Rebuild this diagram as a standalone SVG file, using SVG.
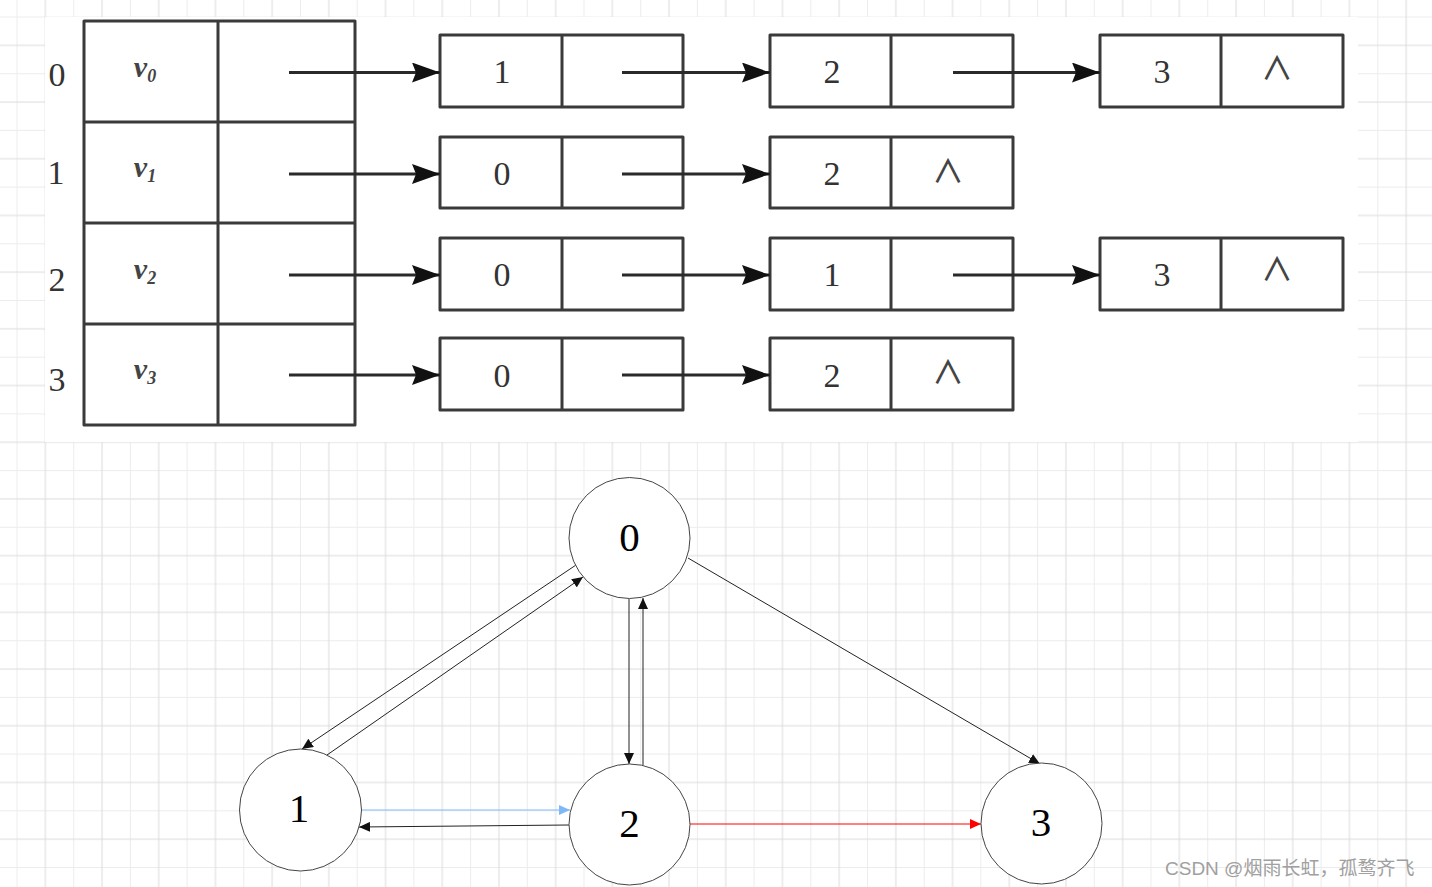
<svg xmlns="http://www.w3.org/2000/svg" width="1432" height="887" viewBox="0 0 1432 887">
<style>
.cell{fill:none;stroke:#3a3a3a;stroke-width:3;stroke-linejoin:round}
.tl{fill:none;stroke:#2a2a2a;stroke-width:3}
.num{font-family:"Liberation Serif",serif;font-size:34px;fill:#333;text-anchor:middle}
.vv{font-family:"Liberation Serif",serif;font-style:italic;font-weight:bold;font-size:30px;fill:#444;text-anchor:middle}
.nil{font-family:"Noto Sans CJK SC","DejaVu Sans",sans-serif;font-weight:500;font-size:32px;fill:#444;text-anchor:middle}
.circ{fill:#fff;stroke:#444;stroke-width:1}
.lab{font-family:"Liberation Serif",serif;font-size:41px;fill:#000;text-anchor:middle}
.e{fill:none;stroke:#222;stroke-width:1}
</style>
<defs>
<pattern id="grid" x="16.5" y="16.5" width="56.7" height="56.7" patternUnits="userSpaceOnUse">
<path d="M0.5 0V56.7M0 0.5H56.7" stroke="#ececec" stroke-width="1"/>
<path d="M28.85 0V56.7M0 28.85H56.7" stroke="#dcdcdc" stroke-width="1"/>
</pattern>
<marker id="big" markerUnits="userSpaceOnUse" markerWidth="28" markerHeight="20" refX="28" refY="10" orient="auto">
<path d="M0 0L28 10L0 20L4 10z" fill="#111"/>
</marker>
<marker id="ak" markerUnits="userSpaceOnUse" markerWidth="12" markerHeight="10" refX="11" refY="5" orient="auto">
<path d="M0 0L11 5L0 10z" fill="#111"/>
</marker>
<marker id="ab" markerUnits="userSpaceOnUse" markerWidth="12" markerHeight="10" refX="11" refY="5" orient="auto">
<path d="M0 0L11 5L0 10z" fill="#7fb8f7"/>
</marker>
<marker id="ar" markerUnits="userSpaceOnUse" markerWidth="12" markerHeight="10" refX="11" refY="5" orient="auto">
<path d="M0 0L11 5L0 10z" fill="#ff0000"/>
</marker>
</defs>
<rect width="1432" height="887" fill="#fff"/>
<rect width="1432" height="887" fill="url(#grid)"/>
<rect x="45" y="17" width="1313" height="425" fill="#fff"/>

<g id="labels-index">
<text class="num" x="57" y="86">0</text>
<text class="num" x="56" y="184">1</text>
<text class="num" x="57" y="291">2</text>
<text class="num" x="57" y="391">3</text>
</g>

<g id="headtable">
<rect class="cell" x="84" y="21" width="271" height="404"/>
<line class="cell" x1="218" y1="21" x2="218" y2="425"/>
<line class="cell" x1="84" y1="122" x2="355" y2="122" stroke-width="4.5"/>
<line class="cell" x1="84" y1="223" x2="355" y2="223"/>
<line class="cell" x1="84" y1="324" x2="355" y2="324"/>
<text class="vv" x="145" y="77">v<tspan font-size="18" dy="5">0</tspan></text>
<text class="vv" x="145" y="177">v<tspan font-size="18" dy="5">1</tspan></text>
<text class="vv" x="145" y="279">v<tspan font-size="18" dy="5">2</tspan></text>
<text class="vv" x="145" y="379">v<tspan font-size="18" dy="5">3</tspan></text>
</g>

<g id="row0">
<g id="n0a"><rect class="cell" x="440" y="35" width="243" height="72"/><line class="cell" x1="562" y1="35" x2="562" y2="107"/><text class="num" x="502" y="83">1</text></g>
<g id="n0b"><rect class="cell" x="770" y="35" width="243" height="72"/><line class="cell" x1="891" y1="35" x2="891" y2="107"/><text class="num" x="832" y="83">2</text></g>
<g id="n0c"><rect class="cell" x="1100" y="35" width="243" height="72"/><line class="cell" x1="1221" y1="35" x2="1221" y2="107"/><text class="num" x="1162" y="83">3</text><text class="nil" x="1277" y="80">∧</text></g>
</g>
<g id="row1">
<g id="n1a"><rect class="cell" x="440" y="137" width="243" height="71"/><line class="cell" x1="562" y1="137" x2="562" y2="208"/><text class="num" x="502" y="185">0</text></g>
<g id="n1b"><rect class="cell" x="770" y="137" width="243" height="71"/><line class="cell" x1="891" y1="137" x2="891" y2="208"/><text class="num" x="832" y="185">2</text><text class="nil" x="948" y="183">∧</text></g>
</g>
<g id="row2">
<g id="n2a"><rect class="cell" x="440" y="238" width="243" height="72"/><line class="cell" x1="562" y1="238" x2="562" y2="310"/><text class="num" x="502" y="286">0</text></g>
<g id="n2b"><rect class="cell" x="770" y="238" width="243" height="72"/><line class="cell" x1="891" y1="238" x2="891" y2="310"/><text class="num" x="832" y="286">1</text></g>
<g id="n2c"><rect class="cell" x="1100" y="238" width="243" height="72"/><line class="cell" x1="1221" y1="238" x2="1221" y2="310"/><text class="num" x="1162" y="286">3</text><text class="nil" x="1277" y="281">∧</text></g>
</g>
<g id="row3">
<g id="n3a"><rect class="cell" x="440" y="338" width="243" height="72"/><line class="cell" x1="562" y1="338" x2="562" y2="410"/><text class="num" x="502" y="387">0</text></g>
<g id="n3b"><rect class="cell" x="770" y="338" width="243" height="72"/><line class="cell" x1="891" y1="338" x2="891" y2="410"/><text class="num" x="832" y="387">2</text><text class="nil" x="948" y="384">∧</text></g>
</g>

<g id="list-connectors">
<line class="tl" x1="289" y1="72.5" x2="440" y2="72.5" marker-end="url(#big)"/>
<line class="tl" x1="622" y1="72.5" x2="770" y2="72.5" marker-end="url(#big)"/>
<line class="tl" x1="953" y1="72.5" x2="1100" y2="72.5" marker-end="url(#big)"/>
<line class="tl" x1="289" y1="174" x2="440" y2="174" marker-end="url(#big)"/>
<line class="tl" x1="622" y1="174" x2="770" y2="174" marker-end="url(#big)"/>
<line class="tl" x1="289" y1="275" x2="440" y2="275" marker-end="url(#big)"/>
<line class="tl" x1="622" y1="275" x2="770" y2="275" marker-end="url(#big)"/>
<line class="tl" x1="953" y1="275" x2="1100" y2="275" marker-end="url(#big)"/>
<line class="tl" x1="289" y1="375" x2="440" y2="375" marker-end="url(#big)"/>
<line class="tl" x1="622" y1="375" x2="770" y2="375" marker-end="url(#big)"/>
</g>

<g id="graph-connectors">
<line class="e" x1="576" y1="565" x2="302" y2="749" marker-end="url(#ak)"/>
<line class="e" x1="327" y1="755" x2="583" y2="577" marker-end="url(#ak)"/>
<line class="e" x1="629" y1="599" x2="629" y2="764" marker-end="url(#ak)"/>
<line class="e" x1="643" y1="765" x2="643" y2="598" marker-end="url(#ak)"/>
<line class="e" x1="688" y1="558" x2="1040" y2="764" marker-end="url(#ak)"/>
<line x1="362" y1="810" x2="570" y2="810" stroke="#7fb8f7" stroke-width="1" marker-end="url(#ab)"/>
<line class="e" x1="569" y1="825" x2="359" y2="827" marker-end="url(#ak)"/>
<line x1="690" y1="824" x2="981" y2="824" stroke="#ff0000" stroke-width="1" marker-end="url(#ar)"/>
</g>

<g id="v0"><circle class="circ" cx="629.5" cy="538" r="60.5"/><text class="lab" x="629.5" y="551">0</text></g>
<g id="v1"><circle class="circ" cx="300.5" cy="810" r="61"/><text class="lab" x="299" y="822">1</text></g>
<g id="v2"><circle class="circ" cx="629.5" cy="824.5" r="60.5"/><text class="lab" x="629.5" y="837">2</text></g>
<g id="v3"><circle class="circ" cx="1041.5" cy="823.5" r="60.5"/><text class="lab" x="1041" y="836">3</text></g>

<text x="1165" y="875" font-family="Liberation Sans, Noto Sans CJK SC, sans-serif" font-size="19" fill="#a0a0a0">CSDN @烟雨长虹，孤鹜齐飞</text>
</svg>
